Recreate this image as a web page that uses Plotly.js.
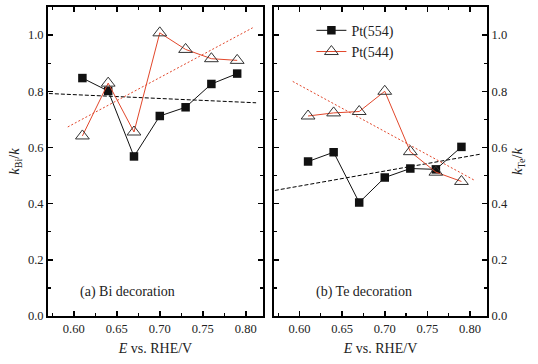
<!DOCTYPE html>
<html><head><meta charset="utf-8">
<script src="https://cdn.plot.ly/plotly-3.0.1.min.js"></script>
<style>html,body{margin:0;padding:0;background:#fff}#c{width:538px;height:364px}</style>
</head><body><div id="c"></div>
<script>
// Potentials (V vs. RHE)
const potentials = [0.61, 0.64, 0.67, 0.70, 0.73, 0.76, 0.79];
// (a) Bi decoration
const biPt554 = [0.847, 0.801, 0.568, 0.712, 0.743, 0.826, 0.863];
const biPt544 = [0.641, 0.829, 0.655, 1.008, 0.949, 0.916, 0.910];
// (b) Te decoration
const tePt554 = [0.550, 0.583, 0.404, 0.493, 0.525, 0.522, 0.602];
const tePt544 = [0.712, 0.723, 0.728, 0.800, 0.585, 0.512, 0.479];
// Dashed trend lines (end points)
const biFit554X = [0.571, 0.812], biFit554Y = [0.792, 0.759];
const biFit544X = [0.593, 0.808], biFit544Y = [0.673, 1.026];
const teFit554X = [0.571, 0.812], teFit554Y = [0.447, 0.576];
const teFit544X = [0.592, 0.806], teFit544Y = [0.835, 0.482];
const seriesNames = ['Pt(554)', 'Pt(544)'];

const serif = 'Liberation Serif, Times New Roman, serif';
const RED = '#e2472b';
const sq = {symbol: 'square', size: 8.5, color: '#111', line: {width: 0}};
const tri = {symbol: 'triangle-up-open', size: 12, color: '#333', line: {width: 1}};

const traces = [
  {x: biFit554X, y: biFit554Y, xaxis: 'x', yaxis: 'y', mode: 'lines', line: {color: '#000', width: 1, dash: '4px,2px'}, showlegend: false},
  {x: biFit544X, y: biFit544Y, xaxis: 'x', yaxis: 'y', mode: 'lines', line: {color: RED, width: 1, dash: '2px,2px'}, showlegend: false},
  {x: potentials, y: biPt554, xaxis: 'x', yaxis: 'y', mode: 'lines+markers', line: {color: '#111', width: 1}, marker: sq, showlegend: false},
  {x: potentials, y: biPt544, xaxis: 'x', yaxis: 'y', mode: 'lines+markers', line: {color: RED, width: 1}, marker: tri, showlegend: false},
  {x: teFit554X, y: teFit554Y, xaxis: 'x2', yaxis: 'y2', mode: 'lines', line: {color: '#000', width: 1, dash: '4px,2px'}, showlegend: false},
  {x: teFit544X, y: teFit544Y, xaxis: 'x2', yaxis: 'y2', mode: 'lines', line: {color: RED, width: 1, dash: '2px,2px'}, showlegend: false},
  {x: potentials, y: tePt554, xaxis: 'x2', yaxis: 'y2', mode: 'lines+markers', name: seriesNames[0], line: {color: '#111', width: 1}, marker: sq},
  {x: potentials, y: tePt544, xaxis: 'x2', yaxis: 'y2', mode: 'lines+markers', name: seriesNames[1], line: {color: RED, width: 1}, marker: tri}
];

function xAxis(domain, anchor) {
  return {
    domain: domain, anchor: anchor, range: [0.57, 0.82],
    showline: true, linewidth: 2, linecolor: '#000', mirror: 'allticks',
    ticks: 'inside', ticklen: 5, tickwidth: 1.5, tickcolor: '#000',
    tick0: 0.6, dtick: 0.05, tickformat: '.2f',
    minor: {ticks: 'inside', tick0: 0.6, dtick: 0.025, ticklen: 3, tickwidth: 1.2, tickcolor: '#000', showgrid: false},
    showgrid: false, zeroline: false,
    tickfont: {family: serif, size: 12.5, color: '#222'},
    title: {text: '<i>E</i> vs. RHE/V', font: {family: serif, size: 14, color: '#222'}, standoff: 8}
  };
}
function yAxis(anchor, side, title) {
  return {
    anchor: anchor, side: side, domain: [0, 1], range: [0, 1.1],
    showline: true, linewidth: 2, linecolor: '#000', mirror: 'allticks',
    ticks: 'inside', ticklen: 5, tickwidth: 1.5, tickcolor: '#000',
    tick0: 0, dtick: 0.2, tickformat: '.1f',
    minor: {ticks: 'inside', tick0: 0, dtick: 0.1, ticklen: 3, tickwidth: 1.2, tickcolor: '#000', showgrid: false},
    showgrid: false, zeroline: false,
    tickfont: {family: serif, size: 12.5, color: '#222'},
    title: {text: title, font: {family: serif, size: 14.5, color: '#222'}, standoff: 5}
  };
}

const layout = {
  width: 538, height: 364,
  margin: {l: 48, r: 51, t: 7, b: 48},
  paper_bgcolor: '#fff', plot_bgcolor: '#fff',
  font: {family: serif, color: '#222'},
  xaxis: xAxis([0, 0.4897], 'y'),
  yaxis: yAxis('x', 'left', '<i>k</i><sub>Bi</sub>/<i>k</i>'),
  xaxis2: xAxis([0.5148, 1], 'y2'),
  yaxis2: yAxis('x2', 'right', '<i>k</i><sub>Te</sub>/<i>k</i>'),
  showlegend: true,
  legend: {x: 0.6, y: 0.975, xanchor: 'left', yanchor: 'top', bgcolor: 'rgba(0,0,0,0)',
           font: {family: serif, size: 14, color: '#222'}, tracegroupgap: 0, itemwidth: 30},
  annotations: [
    {xref: 'x', yref: 'y', x: 0.663, y: 0.085, text: '(a) Bi decoration', showarrow: false,
     font: {family: serif, size: 14, color: '#222'}},
    {xref: 'x2', yref: 'y2', x: 0.676, y: 0.085, text: '(b) Te decoration', showarrow: false,
     font: {family: serif, size: 14, color: '#222'}}
  ]
};

Plotly.newPlot('c', traces, layout, {staticPlot: true, displayModeBar: false});
</script>
</body></html>
